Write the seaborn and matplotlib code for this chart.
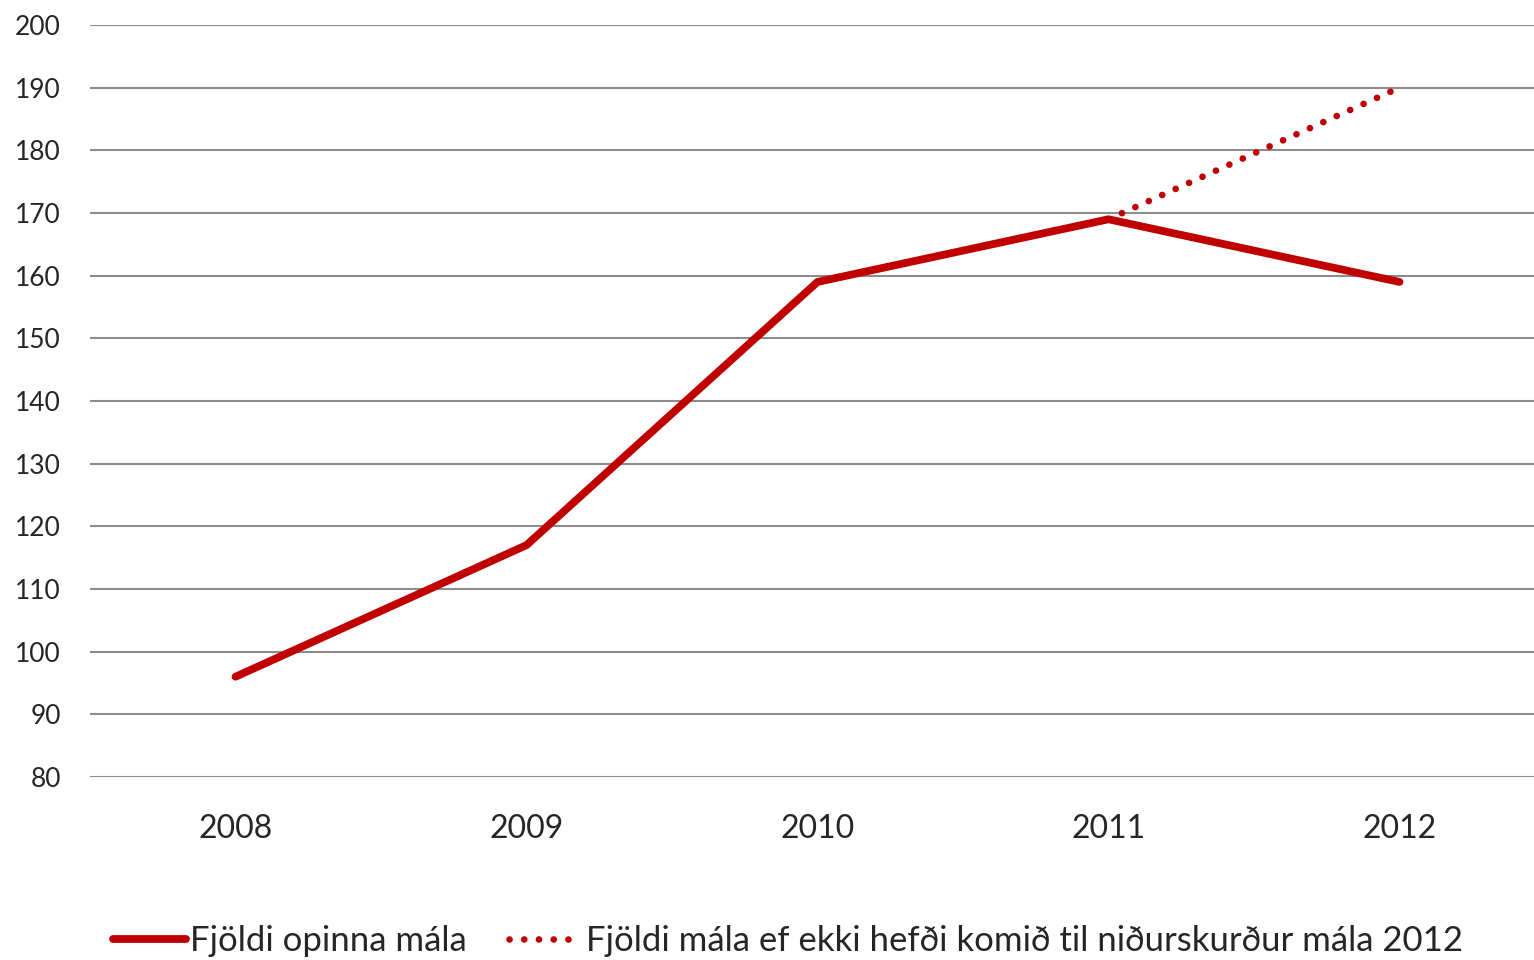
import pandas as pd
import seaborn as sns
import matplotlib.pyplot as plt

years = ["2008", "2009", "2010", "2011", "2012"]
opin_mal = [96, 117, 159, 169, 159]
hefdi_years = ["2011", "2012"]
hefdi_mal = [169, 190]
yticks = list(range(80, 201, 10))

label_a = "Fjöldi opinna mála"
label_b = "Fjöldi mála ef ekki hefði komið til niðurskurður mála 2012"
red = "#C00000"

sns.set_style("white")
plt.rcParams["font.family"] = ["Lato", "DejaVu Sans"]

df_a = pd.DataFrame({"pos": range(len(years)), "val": opin_mal})
df_b = pd.DataFrame({"pos": [years.index(y) for y in hefdi_years], "val": hefdi_mal})

fig = plt.figure(figsize=(15.34, 9.6), dpi=100)
ax = fig.add_axes([90 / 1534, 1 - 777 / 960, 1 - 90 / 1534, (777 - 25) / 960])

sns.lineplot(data=df_b, x="pos", y="val", ax=ax, color=red, lw=4.8,
             linestyle=(0, (0.01, 2.2)), dash_capstyle="round", label=label_b)
sns.lineplot(data=df_a, x="pos", y="val", ax=ax, color=red, lw=5.6,
             solid_capstyle="round", solid_joinstyle="round", label=label_a)

ax.set_ylim(80, 200)
ax.set_yticks(yticks)
ax.set_yticklabels([str(v) for v in yticks], fontsize=19)
ax.set_xlim(-0.5, -0.5 + 1444 / 291)
ax.set_xticks(range(len(years)))
ax.set_xticklabels(years, fontsize=23)
ax.tick_params(axis="y", length=0, pad=21)
ax.tick_params(axis="x", length=0, pad=27)
ax.grid(axis="y", color="#8c8c8c", lw=1.5)
ax.set_axisbelow(True)
for s in ax.spines.values():
    s.set_visible(False)
ax.set_xlabel("")
ax.set_ylabel("")

handles, labels = ax.get_legend_handles_labels()
ax.get_legend().remove()
order = [labels.index(label_a), labels.index(label_b)]
fig.legend([handles[i] for i in order], [labels[i] for i in order],
           loc="center", bbox_to_anchor=(788 / 1534, 1 - 941 / 960), ncol=2,
           frameon=False, fontsize=25, handlelength=2.1, handletextpad=0.12,
           columnspacing=1.2)

fig.savefig("out.png", dpi=100)
